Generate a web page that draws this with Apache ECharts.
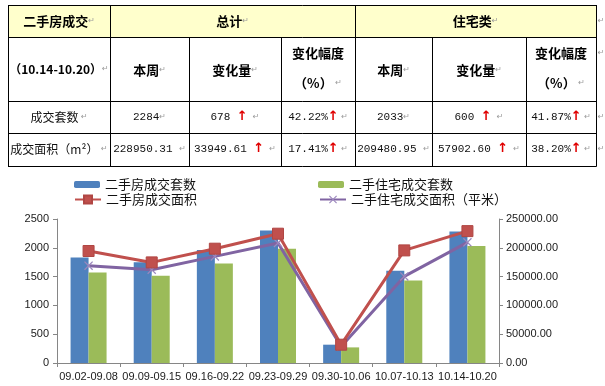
<!DOCTYPE html>
<html><head><meta charset="utf-8">
<script src="https://cdn.jsdelivr.net/npm/echarts@6/dist/echarts.min.js"></script>
<style>html,body{margin:0;padding:0;background:#fff}#c{width:605px;height:386px}</style>
</head><body><div id="c"></div><script>
// ---- chart data ----
const categories = ['09.02-09.08','09.09-09.15','09.16-09.22','09.23-09.29','09.30-10.06','10.07-10.13','10.14-10.20'];
const allUnits = [1833,1747,1960,2302,318,1602,2284];
const resUnits = [1573,1516,1729,1984,271,1434,2033];
const allArea = [194444,174650,198437,224479,31770,195486,228950.31];
const resArea = [168924,161979,185069,208333,28819,150347,209480.95];
const seriesNames = ['二手房成交套数','二手住宅成交套数','二手房成交面积','二手住宅成交面积（平米）'];
const leftAxisMax = 2500, leftAxisStep = 500;
const rightAxisMax = 250000, rightAxisStep = 50000;
// ---- table data ----
const tableTitles = ['二手房成交','总计','住宅类'];
const periodLabel = '（10.14-10.20）';
const colHeads = ['本周','变化量','变化幅度','（%）'];
const rowLabels = ['成交套数','成交面积（m²）'];
const totalWeek = ['2284','228950.31'];
const totalChange = ['678','33949.61'];
const totalPct = ['42.22%','17.41%'];
const resWeek = ['2033','209480.95'];
const resChange = ['600','57902.60'];
const resPct = ['41.87%','38.20%'];

const CJK = '"Noto Sans CJK SC","Noto Sans",sans-serif';
const MONO = '"Liberation Mono","DejaVu Sans Mono",monospace';
const rich = {
  h: {fontFamily: CJK, fontWeight: 'bold', fontSize: 13, fill: '#000', color:'#000'},
  hp: {fontFamily: CJK, fontWeight: 'bold', fontSize: 12, fill: '#000', color:'#000'},
  l: {fontFamily: CJK, fontSize: 12, fill: '#111', color:'#111'},
  n: {fontFamily: MONO, fontSize: 11, fill: '#111', color:'#111'},
  a: {fontFamily: '"DejaVu Sans"', fontWeight: 'bold', fontSize: 13, fill: '#e00000', color:'#e00000'},
  p: {fontFamily: '"DejaVu Sans"', fontSize: 8, fill: '#9a9a9a', color:'#9a9a9a'}
};
function T(x, y, text) {
  return {type:'text', x:x, y:y, z:10, style:{text:text, rich:rich, align:'center', verticalAlign:'middle', textAlign:'center', textVerticalAlign:'middle'}};
}
const colX = [8,110,189,281,355,432,526,596];
const rowY = [5,37,101,133,166];
const cx = i => (colX[i] + colX[i+1]) / 2;
const g = [];
g.push({type:'rect', shape:{x:8, y:5, width:588, height:32}, style:{fill:'#FFFFCC'}});
rowY.forEach(y => g.push({type:'line', shape:{x1:8, y1:y+0.5, x2:596.5, y2:y+0.5}, style:{stroke:'#000', lineWidth:1}}));
colX.forEach((x, i) => {
  const full = (i === 0 || i === 1 || i === 4 || i === 7);
  g.push({type:'line', shape:{x1:x+0.5, y1: full ? 5 : 37, x2:x+0.5, y2:166.5}, style:{stroke:'#000', lineWidth:1}});
});
// header row
g.push(T(cx(0), 21, '{h|' + tableTitles[0] + '}{p|↵}'));
g.push(T((colX[1]+colX[4])/2, 21, '{h|' + tableTitles[1] + '}{p|↵}'));
g.push(T((colX[4]+colX[7])/2, 21, '{h|' + tableTitles[2] + '}{p|↵}'));
// sub header
g.push(T(cx(0), 69, '{hp|' + periodLabel + '}{p|↵}'));
[1,4].forEach(k => {
  g.push(T(cx(k), 70, '{h|' + colHeads[0] + '}{p|↵}'));
  g.push(T(cx(k+1), 70, '{h|' + colHeads[1] + '}{p|↵}'));
  g.push(T(cx(k+2), 53, '{h|' + colHeads[2] + '}'));
  g.push(T(cx(k+2), 83, '{h|' + colHeads[3] + '}{p| ↵}'));
});
// data rows
const rowsC = [117, 149];
for (let r = 0; r < 2; r++) {
  const y = rowsC[r];
  g.push(T(cx(0), y, '{l|' + rowLabels[r] + '}{p| ↵}'));
  g.push(T(cx(1), y, '{n|' + totalWeek[r] + (r ? ' ' : '') + '}{p|↵}'));
  g.push(T(cx(2), y, '{n|' + totalChange[r] + ' }{a|↑}{p|  ↵}'));
  g.push(T(cx(3), y, '{n|' + totalPct[r] + '}{a|↑}{p| ↵}'));
  g.push(T(cx(4), y, '{n|' + resWeek[r] + (r ? ' ' : '') + '}{p|↵}'));
  g.push(T(cx(5), y, '{n|' + resChange[r] + ' }{a|↑}{p|  ↵}'));
  g.push(T(cx(6), y, '{n|' + resPct[r] + '}{a|↑}{p| ↵}'));
}
[21, 53, 117, 149].forEach(y => g.push(T(601, y, '{p|↵}')));

const axisFont = {fontFamily:'"Liberation Sans",Arial,sans-serif', fontSize:11, color:'#1a1a1a'};
const axisLine = {show:true, lineStyle:{color:'#868686', width:1}};
const xPath = 'path://M0,1L1,0L5,4L9,0L10,1L6,5L10,9L9,10L5,6L1,10L0,9L4,5Z';

const chart = echarts.init(document.getElementById('c'), null, {renderer:'canvas'});
chart.setOption({
  animation:false,
  backgroundColor:'#fff',
  graphic: g,
  legend: [
    {data:[seriesNames[0], seriesNames[1]], left:74, top:178, padding:0, itemWidth:26, itemHeight:7, itemGap:122,
     textStyle:{fontFamily:CJK, fontSize:13, color:'#111'}},
    {data:[seriesNames[2], seriesNames[3]], left:74, top:193, padding:0, itemWidth:26, itemHeight:10, itemGap:122,
     textStyle:{fontFamily:CJK, fontSize:13, color:'#111'}}
  ],
  grid:{left:57, right:106, top:219, bottom:23, containLabel:false},
  xAxis:{type:'category', data:categories, axisLine:axisLine,
    axisTick:{show:true, length:4, lineStyle:{color:'#868686'}},
    axisLabel:Object.assign({interval:0, margin:8}, axisFont)},
  yAxis:[
    {type:'value', min:0, max:leftAxisMax, interval:leftAxisStep, axisLine:axisLine,
     axisTick:{show:true, length:4, lineStyle:{color:'#868686'}}, splitLine:{show:false},
     axisLabel:Object.assign({margin:8, formatter: v => String(v)}, axisFont)},
    {type:'value', min:0, max:rightAxisMax, interval:rightAxisStep, position:'right', axisLine:axisLine,
     axisTick:{show:true, length:4, lineStyle:{color:'#868686'}}, splitLine:{show:false},
     axisLabel:Object.assign({margin:7, formatter: v => v.toFixed(2)}, axisFont)}
  ],
  series:[
    {name:seriesNames[0], type:'bar', data:allUnits, barWidth:18, barGap:'0%', itemStyle:{color:'#4F81BD'}},
    {name:seriesNames[1], type:'bar', data:resUnits, barWidth:18, barGap:'0%', itemStyle:{color:'#9BBB59'}},
    {name:seriesNames[3], type:'line', yAxisIndex:1, data:resArea, symbol:xPath, symbolSize:9,
     lineStyle:{color:'#8064A2', width:3}, itemStyle:{color:'#9B87BD'}, z:3},
    {name:seriesNames[2], type:'line', yAxisIndex:1, data:allArea, symbol:'rect', symbolSize:11,
     lineStyle:{color:'#C0504D', width:3}, itemStyle:{color:'#C0504D', borderColor:'#B04643', borderWidth:1}, z:4}
  ]
});
</script></body></html>
